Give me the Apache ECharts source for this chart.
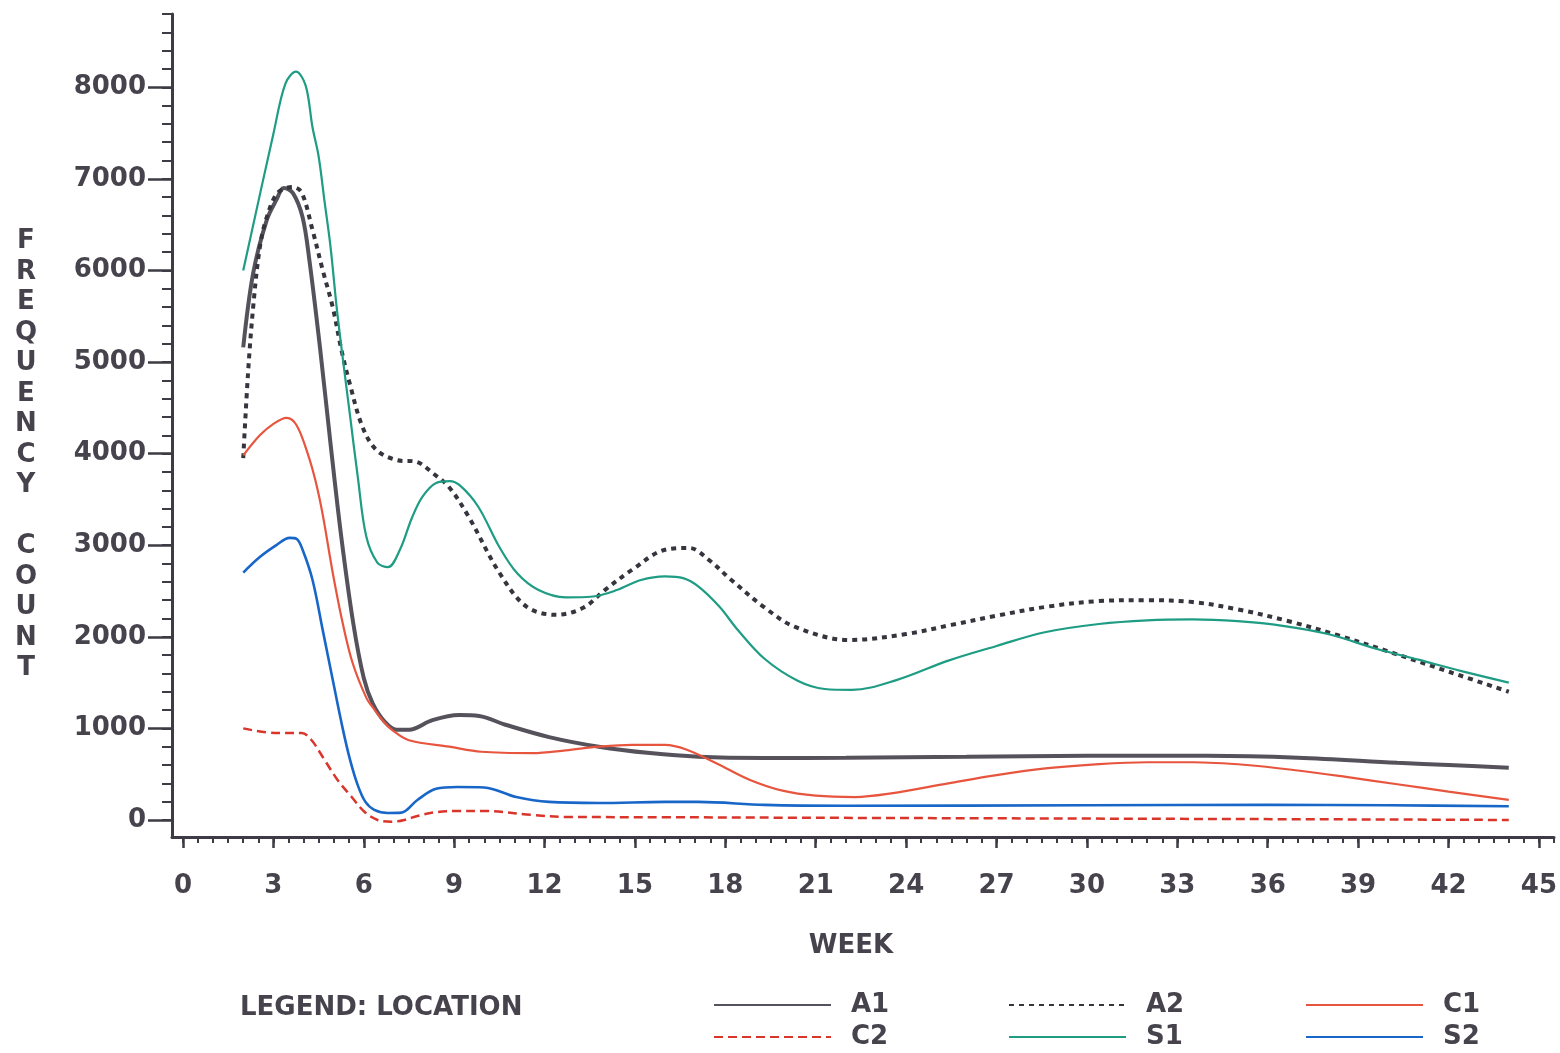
<!DOCTYPE html>
<html>
<head>
<meta charset="utf-8">
<script src="https://cdn.jsdelivr.net/npm/echarts@6/dist/echarts.min.js"></script>
<style>
html,body{margin:0;padding:0;background:#ffffff;}
#chart{width:1560px;height:1053px;}
</style>
</head>
<body>
<div id="chart"></div>
<script>
// ---- data (week, frequency count) ----
const weeksA1 = [2, 2.33, 2.78, 3.1, 3.35, 3.65, 3.97, 4.2, 4.55, 4.9, 5.25, 5.65, 6.0, 6.3, 6.7, 7.09, 7.5, 8.28, 9.17, 9.83, 10.7, 12.15, 13.8, 15.5, 17.1, 19.3, 22, 26, 30, 34, 37, 40.3, 42, 44];
const valuesA1 = [5160, 5970, 6550, 6770, 6900, 6845, 6580, 6100, 5150, 4100, 3100, 2150, 1550, 1270, 1070, 985, 985, 1090, 1145, 1135, 1040, 905, 800, 730, 690, 677, 680, 690, 700, 700, 680, 625, 600, 570];

const weeksA2 = [2, 2.16, 2.33, 2.55, 2.78, 3.15, 3.65, 3.94, 4.3, 4.64, 4.97, 5.26, 5.53, 5.96, 6.42, 7.09, 7.75, 8.28, 8.84, 9.5, 10.5, 11.4, 12.4, 13.3, 14.0, 14.9, 16.0, 16.8, 17.45, 18.2, 19.3, 20.3, 22.1, 24, 25.5, 27, 28.7, 30.4, 32, 33.5, 35, 36.7, 38.3, 40, 42, 44];
const valuesA2 = [3950, 4880, 5600, 6250, 6580, 6850, 6910, 6850, 6440, 6000, 5600, 5130, 4770, 4290, 4040, 3930, 3910, 3790, 3630, 3300, 2700, 2330, 2240, 2320, 2510, 2730, 2950, 2970, 2840, 2620, 2320, 2110, 1965, 2030, 2130, 2230, 2330, 2390, 2400, 2380, 2300, 2170, 2020, 1840, 1620, 1400];

const weeksC1 = [2, 2.55, 2.98, 3.44, 3.77, 4.14, 4.4, 4.64, 4.97, 5.3, 5.63, 6.09, 6.3, 6.62, 6.95, 7.5, 8.84, 9.9, 11.6, 12.7, 13.8, 14.9, 16.0, 16.7, 17.7, 18.8, 19.9, 21, 22.3, 23.5, 25.4, 27, 28.7, 30.4, 32, 33.5, 35.3, 37, 38.6, 40.3, 42, 44];
const valuesC1 = [3980, 4200, 4320, 4390, 4310, 4000, 3700, 3330, 2700, 2150, 1714, 1330, 1230, 1090, 980, 870, 800, 745, 730, 760, 800, 820, 820, 770, 620, 440, 320, 265, 250, 290, 400, 490, 565, 610, 630, 630, 600, 540, 470, 390, 310, 220];

const weeksC2 = [2, 3.05, 3.94, 4.27, 4.7, 5.13, 5.6, 6.03, 6.46, 6.92, 7.35, 7.78, 8.44, 9.1, 10, 11.6, 12.7, 16, 20, 30, 40, 44];
const valuesC2 = [1000, 950, 950, 870, 655, 437, 251, 87, 0, -20, 0, 44, 87, 98, 98, 55, 33, 30, 25, 15, 5, 0];

const weeksS1 = [2, 3, 3.4, 3.75, 4.07, 4.3, 4.5, 4.7, 4.9, 5.1, 5.3, 5.55, 5.8, 6.08, 6.45, 6.8, 7.2, 7.6, 7.95, 8.4, 8.85, 9.2, 9.8, 10.5, 11.1, 11.8, 12.7, 13.6, 14.4, 15.2, 16.0, 16.6, 17.1, 17.8, 18.4, 19.3, 20.4, 21.3, 22.2, 23.7, 25.4, 27, 28.6, 30.4, 32, 33.5, 35, 36.5, 38, 39.6, 41, 42.5, 44];
const valuesS1 = [6000, 7490, 8040, 8170, 8020, 7560, 7250, 6750, 6250, 5600, 5050, 4400, 3750, 3100, 2810, 2760, 2950, 3300, 3530, 3680, 3700, 3650, 3420, 2980, 2690, 2510, 2430, 2440, 2510, 2620, 2660, 2640, 2550, 2330, 2080, 1760, 1520, 1430, 1420, 1530, 1740, 1900, 2050, 2140, 2180, 2190, 2170, 2120, 2030, 1870, 1750, 1620, 1500];

const weeksS2 = [2, 2.55, 3.1, 3.54, 3.77, 3.97, 4.3, 4.64, 4.97, 5.3, 5.55, 5.8, 6.05, 6.35, 6.8, 7.25, 7.78, 8.4, 9.1, 10, 11.06, 12.15, 13.8, 16, 17.1, 19.3, 22, 30, 36, 40, 44];
const valuesS2 = [2700, 2870, 3000, 3080, 3070, 2950, 2620, 2070, 1530, 1000, 650, 380, 200, 110, 76, 80, 218, 340, 360, 355, 250, 197, 186, 197, 197, 165, 155, 160, 165, 160, 150];

// ---- tick labels ----
const xMajorTicks = [0, 3, 6, 9, 12, 15, 18, 21, 24, 27, 30, 33, 36, 39, 42, 45];
const yMajorTicks = [0, 1000, 2000, 3000, 4000, 5000, 6000, 7000, 8000];
const xMinorTicks = [];
for (let i = 0; i <= 91; i++) xMinorTicks.push(i * 0.5);
const yMinorTicks = [];
for (let i = 0; i <= 44; i++) yMinorTicks.push(i * 200);

const X_MIN = -0.364, X_MAX = 45.5;
const Y_MIN = -186, Y_MAX = 8800;

const INK = '#3e3b44';
const TEXT = '#46434d';
const FONT = 'DejaVu Sans';

function pairs(xs, ys) { return xs.map((x, i) => [x, ys[i]]); }

const chart = echarts.init(document.getElementById('chart'), null, {renderer: 'canvas'});

const txt = {fontFamily: FONT, fontWeight: 'bold', fontSize: 26, color: TEXT};
const legendText = Object.assign({}, txt, {lineHeight: 24, padding: [0, 0, 0, 15]});
const legendCommon = {orient: 'vertical', top: 992, padding: 0, itemWidth: 117, itemHeight: 14, itemGap: 6,
  textStyle: legendText, itemStyle: {color: 'rgba(0,0,0,0)', borderWidth: 0}};

const option = {
  backgroundColor: '#ffffff',
  animation: false,
  title: [
    {text: 'F\nR\nE\nQ\nU\nE\nN\nC\nY\n \nC\nO\nU\nN\nT', left: 26, top: 226, textAlign: 'center', padding: 0,
     textStyle: Object.assign({}, txt, {lineHeight: 30.5})},
    {text: 'WEEK', left: 851, top: 933, textAlign: 'center', padding: 0, textStyle: txt},
    {text: 'LEGEND: LOCATION', left: 240, top: 995, padding: 0, textStyle: txt}
  ],
  grid: {left: 172, right: 3, top: 14, bottom: 216, containLabel: false},
  xAxis: [
    {type: 'value', min: X_MIN, max: X_MAX, position: 'bottom',
     axisLine: {show: true, onZero: false, lineStyle: {color: INK, width: 3}},
     axisTick: {show: true, customValues: xMajorTicks, length: 11, lineStyle: {color: INK, width: 2.5}},
     axisLabel: {show: true, customValues: xMajorTicks, margin: 36, fontFamily: FONT, fontWeight: 'bold', fontSize: 26, color: TEXT,
                 formatter: v => String(v)},
     splitLine: {show: false}},
    {type: 'value', min: X_MIN, max: X_MAX, position: 'bottom',
     axisLine: {show: false, onZero: false},
     axisTick: {show: true, customValues: xMinorTicks, length: 6, lineStyle: {color: INK, width: 2}},
     axisLabel: {show: false},
     splitLine: {show: false}}
  ],
  yAxis: [
    {type: 'value', min: Y_MIN, max: Y_MAX, position: 'left',
     axisLine: {show: true, onZero: false, lineStyle: {color: INK, width: 3}},
     axisTick: {show: true, customValues: yMajorTicks, length: 24, lineStyle: {color: INK, width: 2.5}},
     axisLabel: {show: true, customValues: yMajorTicks, margin: 26, fontFamily: FONT, fontWeight: 'bold', fontSize: 26, color: TEXT,
                 formatter: v => String(v)},
     splitLine: {show: false}},
    {type: 'value', min: Y_MIN, max: Y_MAX, position: 'left',
     axisLine: {show: false, onZero: false},
     axisTick: {show: true, customValues: yMinorTicks, length: 10, lineStyle: {color: INK, width: 2}},
     axisLabel: {show: false},
     splitLine: {show: false}}
  ],
  legend: [
    Object.assign({}, legendCommon, {left: 713, data: ['A1', 'C2']}),
    Object.assign({}, legendCommon, {left: 1008, data: ['A2', 'S1']}),
    Object.assign({}, legendCommon, {left: 1305, data: ['C1', 'S2']})
  ],
  series: [
    {name: 'A1', type: 'line', smooth: 0.35, symbol: 'none', data: pairs(weeksA1, valuesA1),
     lineStyle: {color: '#55525b', width: 4}, itemStyle: {color: '#55525b'}},
    {name: 'A2', type: 'line', smooth: 0.35, symbol: 'none', data: pairs(weeksA2, valuesA2),
     lineStyle: {color: '#36343c', width: 4, type: [5, 5]}, itemStyle: {color: '#36343c'}},
    {name: 'C1', type: 'line', smooth: 0.35, symbol: 'none', data: pairs(weeksC1, valuesC1),
     lineStyle: {color: '#e8553f', width: 2.2}, itemStyle: {color: '#e8553f'}},
    {name: 'C2', type: 'line', smooth: 0.35, symbol: 'none', data: pairs(weeksC2, valuesC2),
     lineStyle: {color: '#d9352b', width: 2.5, type: [9, 5]}, itemStyle: {color: '#d9352b'}},
    {name: 'S1', type: 'line', smooth: 0.35, symbol: 'none', data: pairs(weeksS1, valuesS1),
     lineStyle: {color: '#1e9c84', width: 2.2}, itemStyle: {color: '#1e9c84'}},
    {name: 'S2', type: 'line', smooth: 0.35, symbol: 'none', data: pairs(weeksS2, valuesS2),
     lineStyle: {color: '#1866c8', width: 2.6}, itemStyle: {color: '#1866c8'}}
  ]
};
chart.setOption(option);
</script>
</body>
</html>
